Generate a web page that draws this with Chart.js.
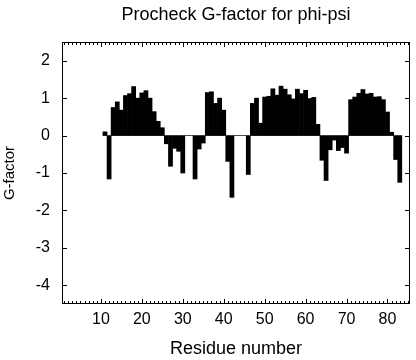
<!DOCTYPE html>
<html>
<head>
<meta charset="utf-8">
<script src="https://cdn.jsdelivr.net/npm/chart.js@4"></script>
<style>
  html, body { margin: 0; padding: 0; background: #fff; }
  #wrap { width: 416px; height: 360px; }
</style>
</head>
<body>
<div id="wrap"><canvas id="gfactor" width="416" height="360"></canvas></div>
<script>
// residue numbers and their phi-psi G-factor
const residues = [
  11, 12, 13, 14, 15, 16, 17, 18, 19, 20,
  21, 22, 23, 24, 25, 26, 27, 28, 29, 30,
  31, 32, 33, 34, 35, 36, 37, 38, 39, 40,
  41, 42, 43, 44, 45, 46, 47, 48, 49, 50,
  51, 52, 53, 54, 55, 56, 57, 58, 59, 60,
  61, 62, 63, 64, 65, 66, 67, 68, 69, 70,
  71, 72, 73, 74, 75, 76, 77, 78, 79, 80,
  81, 82, 83
];
const gFactor = [
  0.10, -1.16, 0.75, 0.90, 0.68, 1.07, 1.12, 1.31, 1.00, 1.14,
  1.20, 1.00, 0.64, 0.38, 0.21, -0.22, -0.82, -0.34, -0.42, -1.00,
  0, 0, -1.16, -0.36, -0.20, 1.15, 1.17, 0.86, 1.00, 0.68,
  -0.69, -1.65, 0, 0, 0, -1.04, 0.86, 1.00, 0.33, 1.03,
  1.05, 1.25, 1.08, 1.32, 1.24, 1.09, 0.98, 1.24, 1.12, 1.21,
  0.99, 1.02, 0.30, -0.66, -1.20, -0.38, -0.12, -0.40, -0.32, -0.47,
  0.96, 1.03, 1.13, 1.23, 1.11, 1.13, 1.03, 1.04, 0.96, 0.63,
  0.09, -0.64, -1.25
];
const yTickValues = [-4, -3, -2, -1, 0, 1, 2];
const xLabelEvery = 10;

const FONT = "'Liberation Sans', Arial, Helvetica, sans-serif";

// gnuplot-like box with inward ticks on all four sides
const frame = {
  id: "frame",
  afterDraw(chart) {
    const { ctx, chartArea: a, scales } = chart;
    ctx.save();
    ctx.strokeStyle = "#000";
    ctx.lineWidth = 1;
    ctx.strokeRect(a.left + 0.5, a.top + 0.5, a.right - a.left - 1, a.bottom - a.top - 1);
    ctx.beginPath();
    scales.y.ticks.forEach((t) => {
      const y = Math.round(scales.y.getPixelForValue(t.value)) + 0.5;
      ctx.moveTo(a.left, y);
      ctx.lineTo(a.left + 5, y);
      ctx.moveTo(a.right, y);
      ctx.lineTo(a.right - 5, y);
    });
    scales.x.ticks.forEach((t) => {
      const x = Math.round(scales.x.getPixelForValue(t.value)) + 0.5;
      const len = t.value % xLabelEvery === 0 ? 5 : 3;
      ctx.moveTo(x, a.bottom);
      ctx.lineTo(x, a.bottom - len);
      ctx.moveTo(x, a.top);
      ctx.lineTo(x, a.top + len);
    });
    ctx.stroke();
    ctx.restore();
  },
};

new Chart(document.getElementById("gfactor"), {
  type: "bar",
  data: {
    datasets: [
      {
        data: residues.map((r, i) => ({ x: r, y: gFactor[i] })),
        backgroundColor: "#000",
        borderWidth: 0,
        barPercentage: 1,
        categoryPercentage: 1,
      },
    ],
  },
  options: {
    responsive: false,
    animation: false,
    layout: { padding: { left: 0, right: 6, top: 0, bottom: 0 } },
    plugins: {
      legend: { display: false },
      tooltip: { enabled: false },
      title: {
        display: true,
        fullSize: false,
        text: "Procheck G-factor for phi-psi",
        color: "#000",
        font: { family: FONT, size: 18, weight: "normal" },
        padding: { top: 4, bottom: 16.4 },
      },
    },
    scales: {
      x: {
        type: "linear",
        min: 0.5,
        max: 85.5,
        offset: false,
        grid: { display: false, drawTicks: false },
        border: { display: false },
        afterBuildTicks: (s) => {
          const ticks = [];
          for (let v = Math.ceil(s.min); v <= Math.floor(s.max); v++) ticks.push({ value: v });
          s.ticks = ticks;
        },
        afterFit: (s) => { s.height = 56; },
        ticks: {
          autoSkip: false,
          maxRotation: 0,
          padding: 6,
          color: "#000",
          font: { family: FONT, size: 16 },
          callback: (v) => (v % xLabelEvery === 0 ? v : ""),
        },
        title: {
          display: true,
          text: "Residue number",
          color: "#000",
          font: { family: FONT, size: 18 },
          padding: { top: 0, bottom: 0 },
        },
      },
      y: {
        min: -4.5,
        max: 2.5,
        grid: { display: false, drawTicks: false },
        border: { display: false },
        afterBuildTicks: (s) => {
          s.ticks = yTickValues.map((v) => ({ value: v }));
        },
        afterFit: (s) => { s.width = 62; },
        ticks: {
          padding: 12,
          color: "#000",
          font: { family: FONT, size: 16 },
        },
        title: {
          display: true,
          text: "G-factor",
          color: "#000",
          font: { family: FONT, size: 15 },
          padding: { top: 1, bottom: 0 },
        },
      },
    },
  },
  plugins: [frame],
});
</script>
</body>
</html>
